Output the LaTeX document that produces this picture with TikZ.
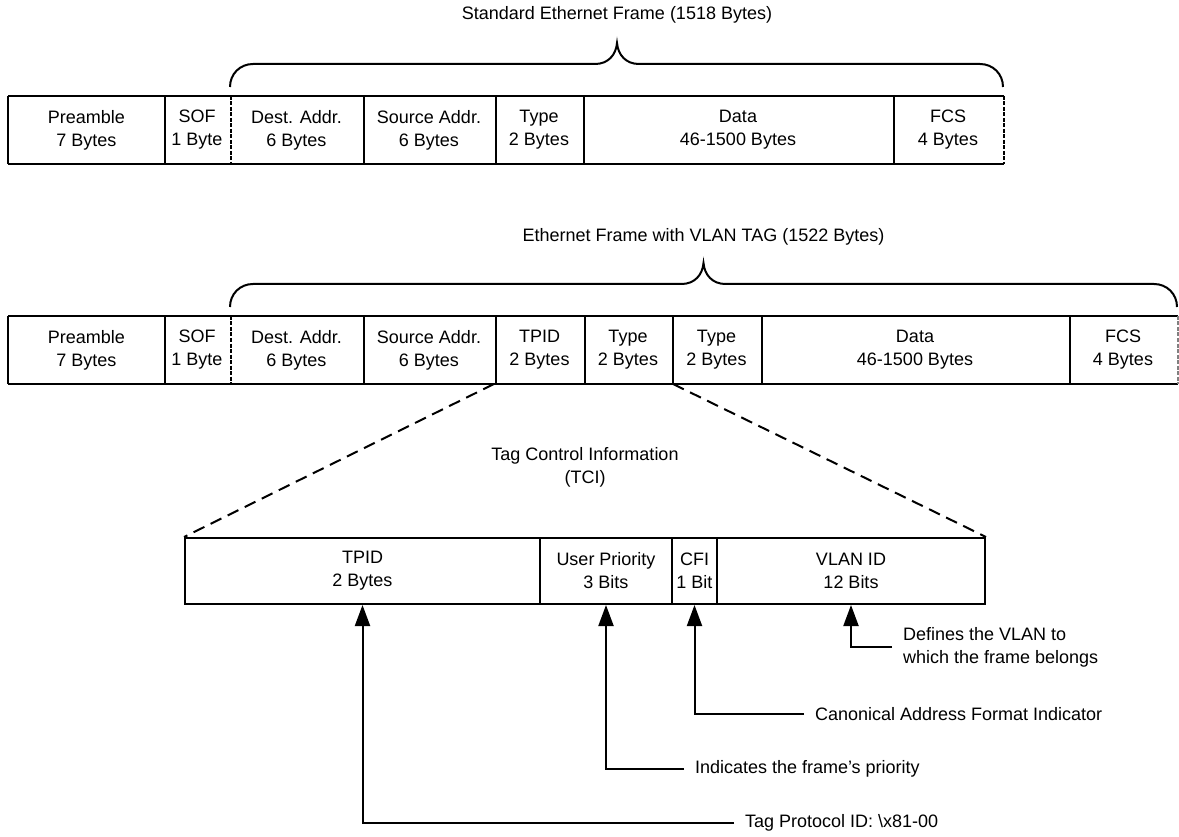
\documentclass[tikz,border=0pt]{standalone}
\usepackage{fontspec}
\setmainfont{Liberation Sans}
\usetikzlibrary{arrows.meta}
\begin{document}
\begin{tikzpicture}[x=1pt,y=-1pt, font=\fontsize{18}{23}\selectfont, line width=2pt,
 cell/.style={minimum height=66pt, inner sep=0pt, align=center},
 lbl/.style={anchor=west, inner xsep=10pt, inner ysep=0pt, align=left},
 arr/.style={-{Triangle[length=21pt,width=15pt]}, line width=2pt},
 sepdash/.style={dash pattern=on 4pt off 1.5pt},
 tagline/.style={dash pattern=on 12pt off 7pt, line width=2pt},
 bracepath/.style={line width=2pt}]
\useasboundingbox (0,0) rectangle (1179,837);

% ---------- Standard frame ----------
\node[cell, minimum width=155pt] (pre1) at (86.5,130) {Preamble\\7 Bytes};
\node[cell, minimum width=66pt]  (sof1) at (197,130) {SOF\\1 Byte};
\node[cell, minimum width=133pt] (dst1) at (296.5,130) {Dest. Addr.\\6 Bytes};
\node[cell, minimum width=132pt] (src1) at (429,130) {Source Addr.\\6 Bytes};
\node[cell, minimum width=88pt]  (typ1) at (539,130) {Type\\2 Bytes};
\node[cell, minimum width=310pt] (dat1) at (738,130) {Data\\46-1500 Bytes};
\node[cell, minimum width=110pt] (fcs1) at (948,130) {FCS\\4 Bytes};
\draw (pre1.north west) -- (fcs1.north east);
\draw (pre1.south west) -- (fcs1.south east);
\draw (pre1.north west) -- (pre1.south west);
\foreach \n in {pre1,dst1,src1,typ1,dat1} \draw (\n.north east) -- (\n.south east);
\draw[sepdash] (sof1.north east) -- (sof1.south east);
\draw[sepdash] (fcs1.north east) -- (fcs1.south east);

\node (t1) at (617,15) {Standard Ethernet Frame (1518 Bytes)};
\draw[bracepath] (230,87) .. controls (230,74) and (240,64) .. (253,64) -- (595,64)
  .. controls (608,64) and (616,55) .. (617,43)
  .. controls (618,55) and (626,64) .. (639,64) -- (980,64)
  .. controls (993,64) and (1003,74) .. (1003,87);

% ---------- VLAN frame ----------
\node[cell, minimum width=155pt] (pre2) at (86.5,350) {Preamble\\7 Bytes};
\node[cell, minimum width=66pt]  (sof2) at (197,350) {SOF\\1 Byte};
\node[cell, minimum width=133pt] (dst2) at (296.5,350) {Dest. Addr.\\6 Bytes};
\node[cell, minimum width=132pt] (src2) at (429,350) {Source Addr.\\6 Bytes};
\node[cell, minimum width=89pt]  (tpid2) at (539.5,350) {TPID\\2 Bytes};
\node[cell, minimum width=88pt]  (typ2) at (628,350) {Type\\2 Bytes};
\node[cell, minimum width=89pt]  (typ3) at (716.5,350) {Type\\2 Bytes};
\node[cell, minimum width=308pt] (dat2) at (915,350) {Data\\46-1500 Bytes};
\node[cell, minimum width=108pt] (fcs2) at (1123,350) {FCS\\4 Bytes};
\draw (pre2.north west) -- (fcs2.north east);
\draw (pre2.south west) -- (fcs2.south east);
\draw (pre2.north west) -- (pre2.south west);
\foreach \n in {pre2,dst2,src2,tpid2,typ2,typ3,dat2} \draw (\n.north east) -- (\n.south east);
\draw[sepdash] (sof2.north east) -- (sof2.south east);
\draw[sepdash, gray] (fcs2.north east) -- (fcs2.south east);

\node (t2) at (703.5,237) {Ethernet Frame with VLAN TAG (1522 Bytes)};
\draw[bracepath] (230,307) .. controls (230,294) and (240,284) .. (253,284) -- (681.5,284)
  .. controls (694.5,284) and (702.5,275) .. (703.5,263)
  .. controls (704.5,275) and (712.5,284) .. (725.5,284) -- (1154,284)
  .. controls (1167,284) and (1177,294) .. (1177,307);

% ---------- TCI ----------
\node[align=center] (tcititle) at (585,467) {Tag Control Information\\(TCI)};
\node[cell, draw, minimum width=355pt] (ctpid) at (362.5,571) {TPID\\2 Bytes};
\node[cell, draw, minimum width=132pt] (cup) at (606,571) {User Priority\\3 Bits};
\node[cell, draw, minimum width=45pt]  (ccfi) at (694.5,571) {CFI\\1 Bit};
\node[cell, draw, minimum width=268pt] (cvlan) at (851,571) {VLAN ID\\12 Bits};

\draw[tagline] (tpid2.south west) -- (ctpid.north west);
\draw[tagline] (typ2.south east) -- (cvlan.north east);

% ---------- labels ----------
\node[lbl] (lvlan) at (892,647) {Defines the VLAN to\\which the frame belongs};
\node[lbl] (lcfi) at (804,714) {Canonical Address Format Indicator};
\node[lbl] (lup) at (684,769) {Indicates the frame’s priority};
\node[lbl] (ltpid) at (734,823) {Tag Protocol ID: \textbackslash x81-00};

\draw[arr] (lvlan.west) -| (cvlan.south);
\draw[arr] (lcfi.west) -| (ccfi.south);
\draw[arr] (lup.west) -| (cup.south);
\draw[arr] (ltpid.west) -| (ctpid.south);
\end{tikzpicture}
\end{document}
